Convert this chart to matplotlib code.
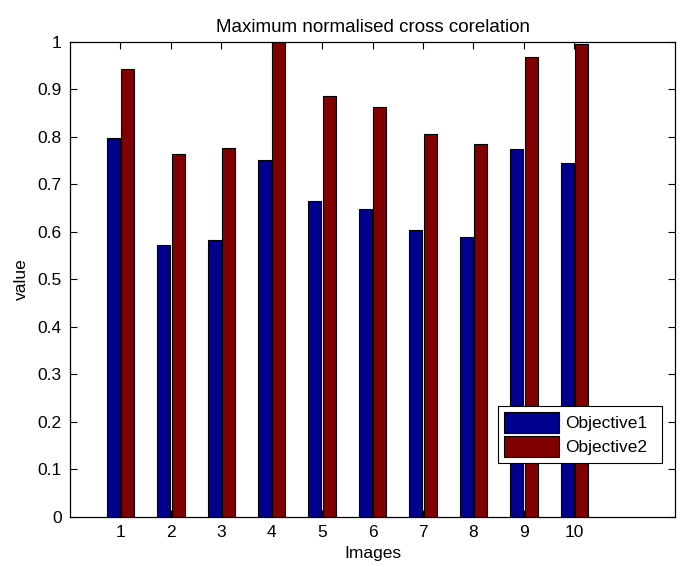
import matplotlib.pyplot as plt
import numpy as np

plt.rcParams['font.family'] = ['Liberation Sans', 'DejaVu Sans']

images = np.arange(1, 11)
objective1 = [0.798, 0.571, 0.583, 0.750, 0.665, 0.648, 0.604, 0.589, 0.773, 0.744]
objective2 = [0.942, 0.763, 0.777, 1.0, 0.886, 0.863, 0.806, 0.785, 0.968, 0.995]

fig = plt.figure(figsize=(6.83, 5.67), dpi=100)
ax = fig.add_axes([0.1025, 0.0882, 0.886, 0.8386])

w = 0.26
off = 0.143
ax.bar(images - off, objective1, width=w, color='#00008f', edgecolor='black',
       linewidth=0.8, label='Objective1')
ax.bar(images + off, objective2, width=w, color='#800000', edgecolor='black',
       linewidth=0.8, label='Objective2')

ax.set_xlim(0, 12)
ax.set_ylim(0, 1)
ax.set_xticks(images)
ax.set_yticks(np.arange(0, 1.01, 0.1))
ax.set_yticklabels(['0', '0.1', '0.2', '0.3', '0.4', '0.5', '0.6', '0.7', '0.8', '0.9', '1'])
ax.tick_params(direction='in', top=True, right=True, length=5, width=0.8,
               labelsize=12.5, pad=6)
for s in ax.spines.values():
    s.set_linewidth(0.9)

ax.set_title('Maximum normalised cross corelation', fontsize=13.5, pad=7)
ax.set_xlabel('Images', fontsize=12.5, labelpad=4)
ax.set_ylabel('value', fontsize=12.5, labelpad=6)

leg = ax.legend(loc='lower left', bbox_to_anchor=(0.707, 0.114, 0.272, 0.124),
                mode='expand', fontsize=12.5, handlelength=3.2, handleheight=1.45,
                fancybox=False, framealpha=1, borderpad=0.35, labelspacing=0.2,
                handletextpad=0.3, borderaxespad=0)
leg.get_frame().set_edgecolor('black')
leg.get_frame().set_linewidth(0.8)

fig.savefig('out.png', dpi=100)
